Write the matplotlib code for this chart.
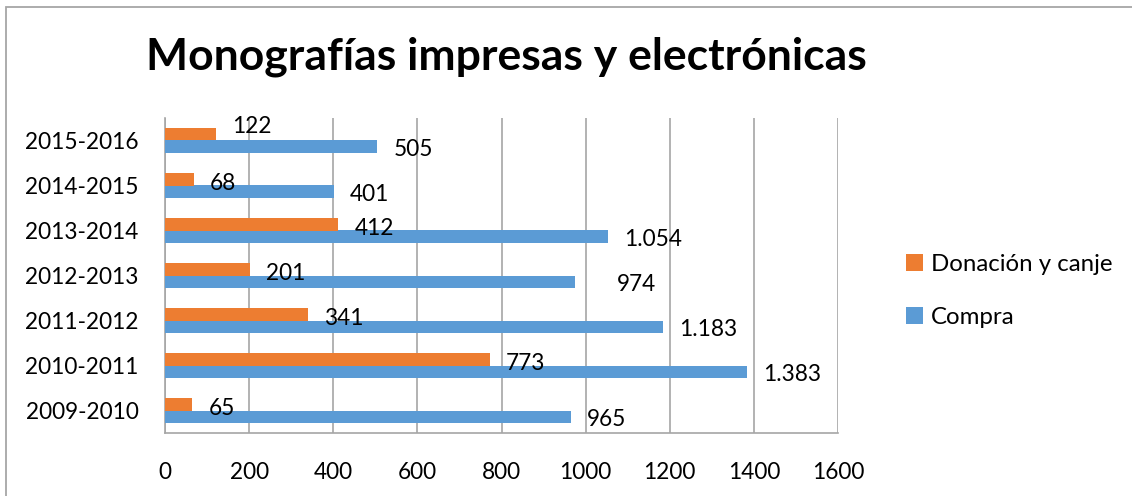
import matplotlib
matplotlib.use("Agg")
import matplotlib.pyplot as plt
from matplotlib.patches import Rectangle, Patch
import numpy as np

# ---- data ----
categories = ["2009-2010", "2010-2011", "2011-2012", "2012-2013",
              "2013-2014", "2014-2015", "2015-2016"]
compra = [965, 1383, 1183, 974, 1054, 401, 505]
donacion = [65, 773, 341, 201, 412, 68, 122]
compra_labels = ["965", "1.383", "1.183", "974", "1.054", "401", "505"]
donacion_labels = ["65", "773", "341", "201", "412", "68", "122"]
xticks = [0, 200, 400, 600, 800, 1000, 1200, 1400, 1600]
title = "Monografías impresas y electrónicas"
series_names = ["Donación y canje", "Compra"]

ORANGE = "#ED7D31"
BLUE = "#5B9BD5"
GRID = "#A6A6A6"

plt.rcParams['font.family'] = ['Lato', 'DejaVu Sans']

W, H = 1132, 496
fig = plt.figure(figsize=(W / 100, H / 100), dpi=100)
fig.patch.set_facecolor("white")

# chart border (top and left visible)
fig.add_artist(Rectangle((5.5 / W, -0.1), 1.2, (H - 6.5) / H + 0.1,
                         transform=fig.transFigure, fill=False,
                         edgecolor=GRID, linewidth=1.3))

left, right, top, bottom = 165, 838, 118, 433
ax = fig.add_axes([left / W, (H - bottom) / H, (right - left) / W, (bottom - top) / H])

y = np.arange(len(categories))
bh = 0.282
ax.barh(y - bh / 2, compra, height=bh, color=BLUE, zorder=3)
ax.barh(y + bh / 2, donacion, height=bh, color=ORANGE, zorder=3)

ax.set_xlim(0, 1600)
ax.set_ylim(-0.5, len(categories) - 0.5)
ax.set_xticks(xticks)
ax.set_xticklabels([str(t) for t in xticks], fontsize=16.3)
ax.set_yticks(y)
ax.set_yticklabels(categories, fontsize=16.3)
ax.tick_params(axis='both', length=0, colors='black')
ax.tick_params(axis='x', pad=21)
ax.tick_params(axis='y', pad=19)

ax.grid(axis='x', color=GRID, linewidth=1.2, zorder=0)
for s in ['top', 'right']:
    ax.spines[s].set_visible(False)
for s in ['left', 'bottom']:
    ax.spines[s].set_color(GRID)
    ax.spines[s].set_linewidth(1.2)

# data labels (points offsets; 1px = 0.72pt)
px = 0.72
label_nudge_compra = {3: (26, 0)}
label_nudge_don = {6: (0, 12)}
for i, (v, t) in enumerate(zip(compra, compra_labels)):
    dx, dy = label_nudge_compra.get(i, (0, 0))
    ax.annotate(t, (v, y[i] - bh / 2), xytext=((16 + dx) * px, (-1 + dy) * px),
                textcoords='offset points', ha='left', va='center_baseline',
                fontsize=16.3, color='black', zorder=4)
for i, (v, t) in enumerate(zip(donacion, donacion_labels)):
    dx, dy = label_nudge_don.get(i, (0, 0))
    ax.annotate(t, (v, y[i] + bh / 2), xytext=((16 + dx) * px, (-2 + dy) * px),
                textcoords='offset points', ha='left', va='center_baseline',
                fontsize=16.3, color='black', zorder=4)

# title
fig.text(506 / W, (H - 57) / H, title, ha='center', va='center',
         fontsize=32, fontweight='bold', color='black')

# legend
handles = [Patch(facecolor=ORANGE, edgecolor='none'),
           Patch(facecolor=BLUE, edgecolor='none')]
leg = fig.legend(handles, series_names, loc='center left',
                 bbox_to_anchor=(906 / W, (H - 291) / H), frameon=False,
                 fontsize=17.3, handlelength=0.72, handleheight=0.72,
                 handletextpad=0.3, labelspacing=1.33, borderpad=0,
                 borderaxespad=0)

fig.savefig("out.png", dpi=100, facecolor="white")
